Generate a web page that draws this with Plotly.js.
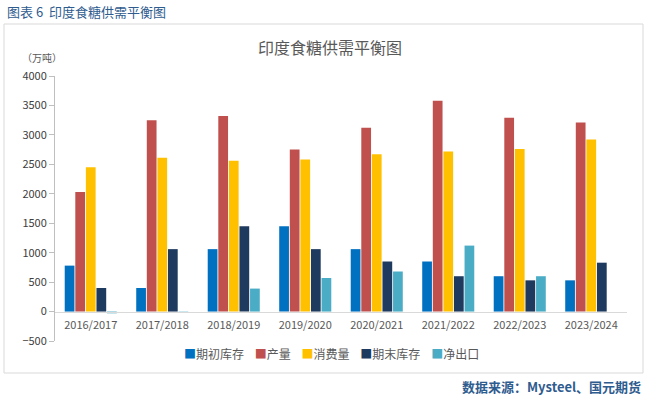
<!DOCTYPE html>
<html>
<head>
<meta charset="utf-8">
<script src="https://cdn.plot.ly/plotly-3.0.1.min.js"></script>
<style>html,body{margin:0;padding:0;background:#fff;}#chart{width:647px;height:396px;}</style>
</head>
<body>
<div id="chart"></div>
<script>
const categories = ['2016/2017','2017/2018','2018/2019','2019/2020','2020/2021','2021/2022','2022/2023','2023/2024'];
const openingStock = [780, 400, 1060, 1450, 1060, 850, 600, 530];
const production = [2030, 3250, 3320, 2750, 3120, 3580, 3290, 3210];
const consumption = [2450, 2610, 2560, 2580, 2670, 2720, 2760, 2920];
const closingStock = [400, 1060, 1450, 1060, 850, 600, 530, 830];
const netExport = [-30, -5, 390, 570, 680, 1120, 600, null];
const seriesNames = ['期初库存','产量','消费量','期末库存','净出口'];
const seriesColors = ['#0070C0','#C0504D','#FFC000','#1F3A5F','#4BACC6'];
const yTicks = [-500,0,500,1000,1500,2000,2500,3000,3500,4000];

const allValues = [openingStock, production, consumption, closingStock, netExport];
const font = '"Noto Sans CJK SC", "Noto Sans", sans-serif';
const traces = allValues.map((v,i)=>({
  type:'bar', x:categories, y:v, name:seriesNames[i],
  marker:{color:seriesColors[i]}, hoverinfo:'skip', showlegend:false
}));

const legendText = seriesNames.map((n,i)=>'<span style="color:'+seriesColors[i]+'">■</span>'+n).join('&nbsp;&nbsp;&nbsp;&nbsp;');

const layout = {
  width:647, height:396,
  margin:{l:55, r:20, t:76, b:55},
  paper_bgcolor:'#fff', plot_bgcolor:'rgba(0,0,0,0)',
  barmode:'group', bargap:0.26, bargroupgap:0.08,
  showlegend:false,
  font:{family:font},
  xaxis:{type:'category', anchor:'free', position:500/4500, showline:true, linecolor:'#D9D9D9', linewidth:1,
    ticks:'outside', ticklen:3, tickcolor:'rgba(0,0,0,0)', showgrid:false, tickfont:{family:font, size:11, color:'#595959'}},
  yaxis:{range:[-500,4000], tickvals:yTicks, showgrid:false, zeroline:false, showline:true,
    linecolor:'#BFBFBF', linewidth:1, ticks:'outside', ticklen:5, tickcolor:'#BFBFBF',
    tickfont:{family:font, size:11, color:'#404040'}},
  shapes:[{type:'rect', xref:'paper', yref:'paper', x0:-51/572, x1:(643-55)/572, y0:(341-373)/265, y1:(341-24)/265,
    line:{color:'#D9D9D9', width:1}, fillcolor:'rgba(0,0,0,0)'}],
  annotations:[
    {text:'图表 6  印度食糖供需平衡图', xref:'paper', yref:'paper', x:-50/572, y:(341-11)/265, xanchor:'left', yanchor:'middle',
      showarrow:false, font:{family:font, size:13, color:'#2F5C8F'}},
    {text:'印度食糖供需平衡图', xref:'paper', yref:'paper', x:(330-55)/572, y:(341-47)/265, xanchor:'center', yanchor:'middle',
      showarrow:false, font:{family:font, size:16, color:'#595959'}},
    {text:'（万吨）', xref:'paper', yref:'paper', x:(42-55)/572, y:(341-57)/265, xanchor:'center', yanchor:'middle',
      showarrow:false, font:{family:font, size:10, color:'#595959'}},
    {text:legendText, xref:'paper', yref:'paper', x:(182-55)/572, y:(341-353)/265, xanchor:'left', yanchor:'middle',
      showarrow:false, font:{family:font, size:12, color:'#595959'}},
    {text:'<b>数据来源：Mysteel、国元期货</b>', xref:'paper', yref:'paper', x:(643-55)/572, y:(341-386)/265, xanchor:'right', yanchor:'middle',
      showarrow:false, font:{family:font, size:13, color:'#2F5C8F'}}
  ]
};
Plotly.newPlot('chart', traces, layout, {displayModeBar:false, staticPlot:true});
</script>
</body>
</html>
